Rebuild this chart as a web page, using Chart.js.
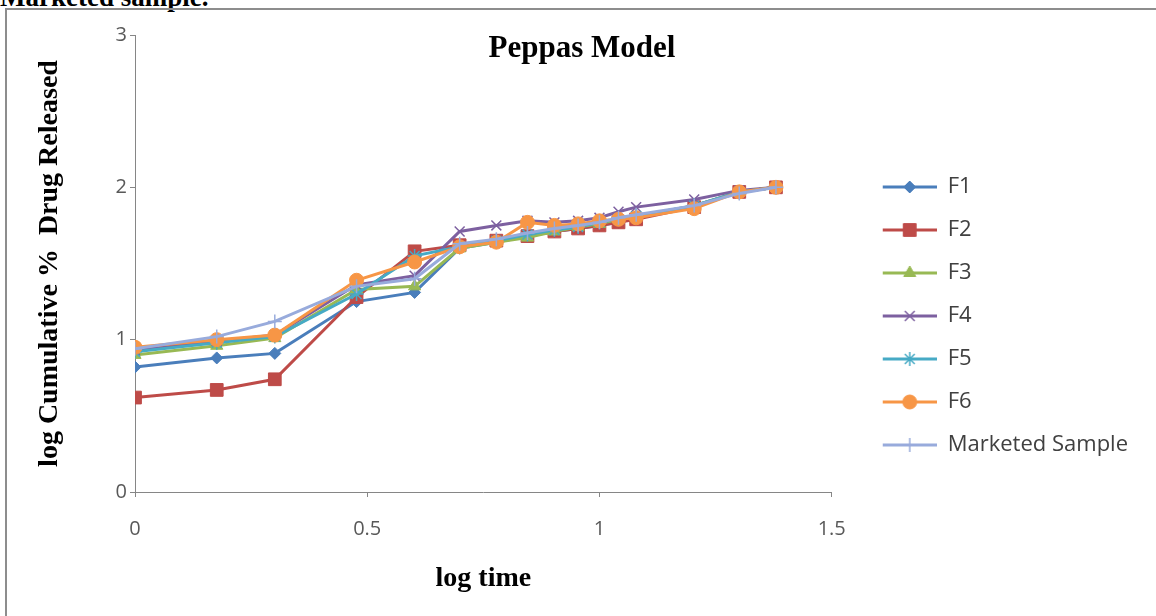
<!DOCTYPE html>
<html>
<head>
<meta charset="utf-8">
<script src="https://cdn.jsdelivr.net/npm/chart.js@4.4.1/dist/chart.umd.min.js"></script>
<style>
  body { margin: 0; background: #fff; width: 1156px; height: 616px; overflow: hidden; position: relative; }
  .caption { position: absolute; left: 0; top: -18px; line-height: 27px; font: bold 27px "Liberation Serif", "Times New Roman", serif; color: #000; white-space: nowrap; }
  .frame { position: absolute; left: 5px; top: 8px; width: 1170px; height: 630px; border: 2px solid #8d8d8d; box-sizing: border-box; }
  #peppasChart { position: absolute; left: 8px; top: 8px; }
</style>
</head>
<body>
<div class="caption">Marketed sample.</div>
<div class="frame"></div>
<canvas id="peppasChart" width="1148" height="608"></canvas>
<script>
// x values (log time) shared by all formulations
const logTime = [0, 0.176, 0.301, 0.477, 0.602, 0.699, 0.778, 0.845, 0.903, 0.954, 1.0, 1.041, 1.079, 1.204, 1.301, 1.380];

const seriesNames = ["F1", "F2", "F3", "F4", "F5", "F6", "Marketed Sample"];

// log cumulative % drug released
const f1 = [0.82, 0.88, 0.91, 1.25, 1.31, 1.60, 1.64, 1.68, 1.71, 1.73, 1.75, 1.77, 1.80, 1.88, 1.97, 2.00];
const f2 = [0.62, 0.67, 0.74, 1.28, 1.58, 1.62, 1.65, 1.68, 1.71, 1.73, 1.75, 1.77, 1.79, 1.87, 1.97, 2.00];
const f3 = [0.90, 0.96, 1.01, 1.33, 1.35, 1.60, 1.64, 1.67, 1.71, 1.74, 1.76, 1.79, 1.81, 1.88, 1.97, 2.00];
const f4 = [0.93, 0.99, 1.03, 1.36, 1.42, 1.71, 1.75, 1.78, 1.77, 1.78, 1.80, 1.84, 1.87, 1.92, 1.98, 2.00];
const f5 = [0.92, 0.98, 1.02, 1.30, 1.55, 1.61, 1.65, 1.69, 1.72, 1.74, 1.77, 1.79, 1.81, 1.88, 1.97, 2.00];
const f6 = [0.95, 1.00, 1.03, 1.39, 1.51, 1.61, 1.64, 1.77, 1.75, 1.76, 1.78, 1.79, 1.80, 1.86, 1.97, 2.00];
const marketed = [0.94, 1.02, 1.12, 1.35, 1.40, 1.63, 1.66, 1.70, 1.73, 1.75, 1.77, 1.80, 1.82, 1.88, 1.96, 2.00];

const xTicks = [0, 0.5, 1, 1.5];
const yTicks = [0, 1, 2, 3];

const chartTitle = "Peppas Model";
const xTitle = "log time";
const yTitle = "log Cumulative %  Drug Released";

const allSeries = [f1, f2, f3, f4, f5, f6, marketed];

// marker look for each series (Excel 2007 style)
const styles = [
  { color: "#4a7ebb", point: "rectRot", radius: 6, bw: 1 },
  { color: "#be4b48", point: "rect", radius: 9, bw: 1 },
  { color: "#98b954", point: "triangle", radius: 7, bw: 1 },
  { color: "#7d60a0", point: "crossRot", radius: 7, bw: 1.5 },
  { color: "#46aac5", point: "star", radius: 7, bw: 1.5 },
  { color: "#f79646", point: "circle", radius: 7, bw: 1 },
  { color: "#98abdc", point: "cross", radius: 7, bw: 1.5 },
];

// small line+marker pictures for the legend
function legendIcon(st) {
  const c = document.createElement("canvas");
  c.width = 84;
  c.height = 20;
  const g = c.getContext("2d");
  g.strokeStyle = st.color;
  g.fillStyle = st.color;
  g.lineWidth = 3;
  g.beginPath();
  g.moveTo(30, 10);
  g.lineTo(84, 10);
  g.stroke();
  g.lineWidth = st.bw;
  Chart.helpers.drawPoint(g, { pointStyle: st.point, radius: st.radius, rotation: 0, borderWidth: st.bw }, 57, 10);
  return c;
}
const legendIcons = styles.map(legendIcon);

const datasets = allSeries.map((vals, i) => ({
  label: seriesNames[i],
  data: vals.map((v, j) => ({ x: logTime[j], y: v })),
  showLine: true,
  borderColor: styles[i].color,
  backgroundColor: styles[i].color,
  borderWidth: 3,
  pointStyle: styles[i].point,
  pointRadius: styles[i].radius,
  pointBorderWidth: styles[i].bw,
  pointBackgroundColor: styles[i].color,
  pointBorderColor: styles[i].color,
  order: allSeries.length - i,
}));

const titlePlugin = {
  id: "peppasTitle",
  afterDraw(chart) {
    const ctx = chart.ctx;
    ctx.save();
    ctx.font = "bold 31px 'Liberation Serif'";
    ctx.fillStyle = "#000";
    ctx.textAlign = "center";
    ctx.textBaseline = "middle";
    ctx.fillText(chartTitle, chart.width / 2, 41);
    ctx.restore();
  },
};

const axisGray = "#868686";
const tickFont = { family: "'Open Sans'", size: 20 };
const axisTitleFont = { family: "'Liberation Serif'", size: 28, weight: "bold" };

function drawChart() {
  new Chart(document.getElementById("peppasChart"), {
    type: "scatter",
    data: { datasets: datasets },
    plugins: [titlePlugin],
    options: {
      responsive: false,
      animation: false,
      layout: { padding: { top: 27, bottom: 19, left: 0, right: 18 } },
      plugins: {
        tooltip: { enabled: false },
        legend: {
          position: "right",
          maxWidth: 340,
          labels: {
            usePointStyle: true,
            pointStyleWidth: 84,
            padding: 21,
            color: "#404040",
            font: { family: "'Open Sans'", size: 22 },
            generateLabels: (chart) =>
              chart.data.datasets.map((ds, i) => ({
                text: ds.label,
                pointStyle: legendIcons[i],
                datasetIndex: i,
                fontColor: "#404040",
                fillStyle: "transparent",
                strokeStyle: "transparent",
                lineWidth: 0,
                hidden: false,
              })),
          },
        },
      },
      scales: {
        x: {
          type: "linear",
          min: 0,
          max: 1.5,
          afterBuildTicks: (scale) => { scale.ticks = xTicks.map((v) => ({ value: v })); },
          afterFit: (scale) => { scale.height = 105; },
          ticks: { color: "#595959", font: tickFont, padding: 20, callback: (v) => String(v) },
          grid: { drawOnChartArea: false, tickLength: 5, color: axisGray },
          border: { color: axisGray, width: 1 },
          title: { display: true, text: xTitle, color: "#000", font: axisTitleFont, padding: { top: 0, bottom: 1 } },
        },
        y: {
          type: "linear",
          min: 0,
          max: 3,
          afterBuildTicks: (scale) => { scale.ticks = yTicks.map((v) => ({ value: v })); },
          afterFit: (scale) => { scale.width = 127; },
          ticks: { color: "#595959", font: tickFont, padding: 3, callback: (v) => String(v) },
          grid: { drawOnChartArea: false, tickLength: 5, color: axisGray },
          border: { color: axisGray, width: 1 },
          title: { display: true, text: yTitle, color: "#000", font: axisTitleFont, padding: { top: 25, bottom: 0 } },
        },
      },
    },
  });
}

if (document.fonts && document.fonts.load) {
  Promise.all([
    document.fonts.load("22px 'Open Sans'"),
    document.fonts.load("bold 28px 'Liberation Serif'"),
  ]).then(drawChart, drawChart);
} else {
  drawChart();
}
</script>
</body>
</html>
